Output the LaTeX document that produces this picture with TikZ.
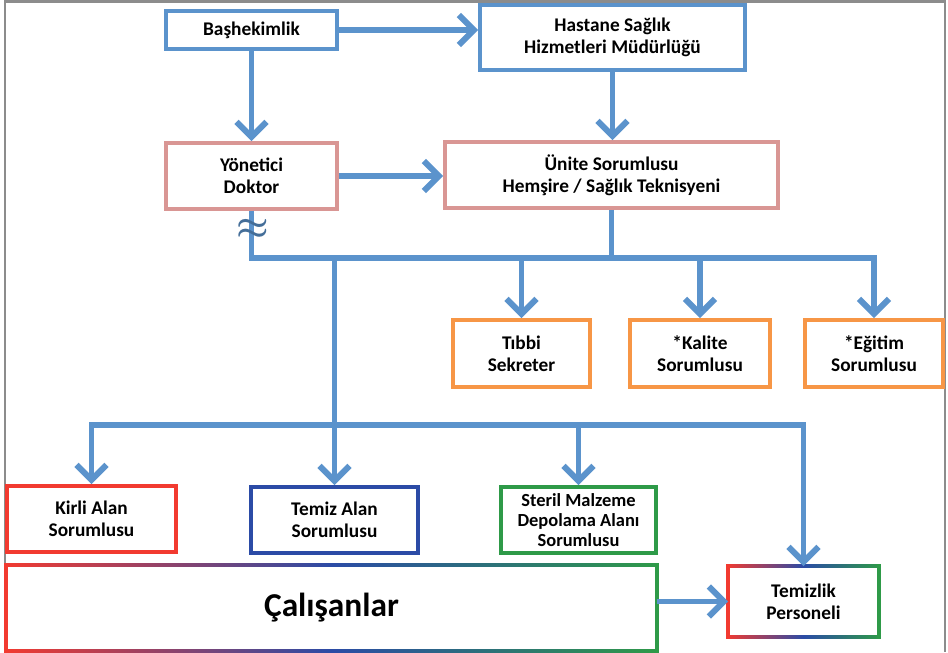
\documentclass[tikz,border=0pt]{standalone}
\usepackage{fontspec}
\setmainfont{Carlito}
\usetikzlibrary{arrows.meta}
\definecolor{cline}{HTML}{5B93CC}
\definecolor{cpink}{HTML}{D99694}
\definecolor{corange}{HTML}{F79646}
\definecolor{cred}{HTML}{F23A30}
\definecolor{cnavy}{HTML}{2B4BA6}
\definecolor{cgreen}{HTML}{2E9A48}
\definecolor{cframe}{HTML}{8C8C8C}
\tikzset{
  every picture/.style={font=\fontsize{11}{12.5}\selectfont\bfseries, line width=2.2pt},
  box/.style={draw=#1, fill=white, align=center, inner sep=2pt, minimum height=1.32cm},
  box/.default=cline,
  arrow/.style={-{Straight Barb[length=3mm, width=6mm]}, draw=cline, line width=3.4pt},
  link/.style={draw=cline, line width=3.4pt},
}

\begin{document}
\begin{tikzpicture}[
  rainbow/.style={fill=white, align=center, inner sep=2pt}]
  % helper: red-blue-green frame round a node
  \newcommand{\rainbowframe}[1]{% node name
    \shade[left color=cred, right color=cgreen, middle color=cnavy]
      ([shift={(-0.035,-0.035)}]#1.north west) rectangle ([shift={(0.035,0.035)}]#1.north east);
    \shade[left color=cred, right color=cgreen, middle color=cnavy]
      ([shift={(-0.035,-0.035)}]#1.south west) rectangle ([shift={(0.035,0.035)}]#1.south east);
    \fill[cred] ([shift={(-0.035,-0.035)}]#1.south west) rectangle ([shift={(0.035,0.035)}]#1.north west);
    \fill[cgreen] ([shift={(-0.035,-0.035)}]#1.south east) rectangle ([shift={(0.035,0.035)}]#1.north east);}
  \useasboundingbox (0,0) rectangle (18.96,13.04);
  \draw[cframe, line width=1.2pt] (0.1,0) -- (0.1,13.01) -- (18.9,13.01) -- (18.9,0);
  % management
  \node[box, minimum width=3.42cm, minimum height=0.76cm] (bas) at (5.03,12.44) {Başhekimlik};
  \node[box, minimum width=5.3cm, minimum height=1.3cm] (hast) at (12.25,12.29) {Hastane Sağlık\\Hizmetleri Müdürlüğü};
  \node[box=cpink, minimum width=3.42cm] (yon) at (5.03,9.52) {Yönetici\\Doktor};
  \node[box=cpink, minimum width=6.66cm] (unite) at (12.23,9.54) {Ünite Sorumlusu\\Hemşire / Sağlık Teknisyeni};
  % staff under the unit
  \node[box=corange, minimum width=2.74cm, minimum height=1.34cm] (tibbi) at (10.43,5.97) {Tıbbi\\Sekreter};
  \node[box=corange, minimum width=2.8cm, minimum height=1.34cm] (kalite) at (14.0,5.97) {*Kalite\\Sorumlusu};
  \node[box=corange, minimum width=2.76cm, minimum height=1.34cm] (egitim) at (17.48,5.97) {*Eğitim\\Sorumlusu};
  % area leads
  \node[box=cred, minimum width=3.38cm] (kirli) at (1.83,2.66) {Kirli Alan\\Sorumlusu};
  \node[box=cnavy, minimum width=3.34cm] (temiz) at (6.69,2.64) {Temiz Alan\\Sorumlusu};
  \node[box=cgreen, minimum width=3.1cm, font=\fontsize{10.5}{11.3}\selectfont\bfseries] (steril) at (11.57,2.64) {Steril Malzeme\\Depolama Alanı\\Sorumlusu};
  \node[rainbow, minimum width=12.94cm, minimum height=1.64cm, font=\fontsize{19}{22}\selectfont\bfseries] (calisan) at (6.63,0.88) {Çalışanlar};
  \node[rainbow, minimum width=2.94cm, minimum height=1.34cm] (temizlik) at (16.07,1.01) {Temizlik\\Personeli};
  \rainbowframe{calisan}
  \rainbowframe{temizlik}
  % connectors
  \coordinate (bus1) at (0,7.88);
  \coordinate (bus2) at (0,4.54);
  \draw[arrow] (bas.east) -- (bas.east -| hast.west);
  \draw[arrow] (bas.south) -- (yon.north);
  \draw[arrow] (hast.south) -- (hast.south |- unite.north);
  \draw[arrow] (yon.east) -- (yon.east -| unite.west);
  \draw[arrow] (yon.south) |- (bus1 -| egitim) -- (egitim.north);
  \draw[link] (unite.south) -- (unite.south |- bus1);
  \draw[arrow] (tibbi.north |- bus1) -- (tibbi.north);
  \draw[arrow] (kalite.north |- bus1) -- (kalite.north);
  \draw[arrow] (temiz.north |- bus1) -- (temiz.north);
  \draw[arrow] (temiz.north |- bus2) -| (kirli.north);
  \draw[arrow] (temiz.north |- bus2) -| (temizlik.north);
  \draw[arrow] (steril.north |- bus2) -- (steril.north);
  \draw[arrow] (calisan.east |- temizlik.west) -- (temizlik.west);
  \node[text=cline!75!black, font=\huge\boldmath, inner sep=0pt] (brk) at (5.05,8.46) {$\approx$};
\end{tikzpicture}
\end{document}
